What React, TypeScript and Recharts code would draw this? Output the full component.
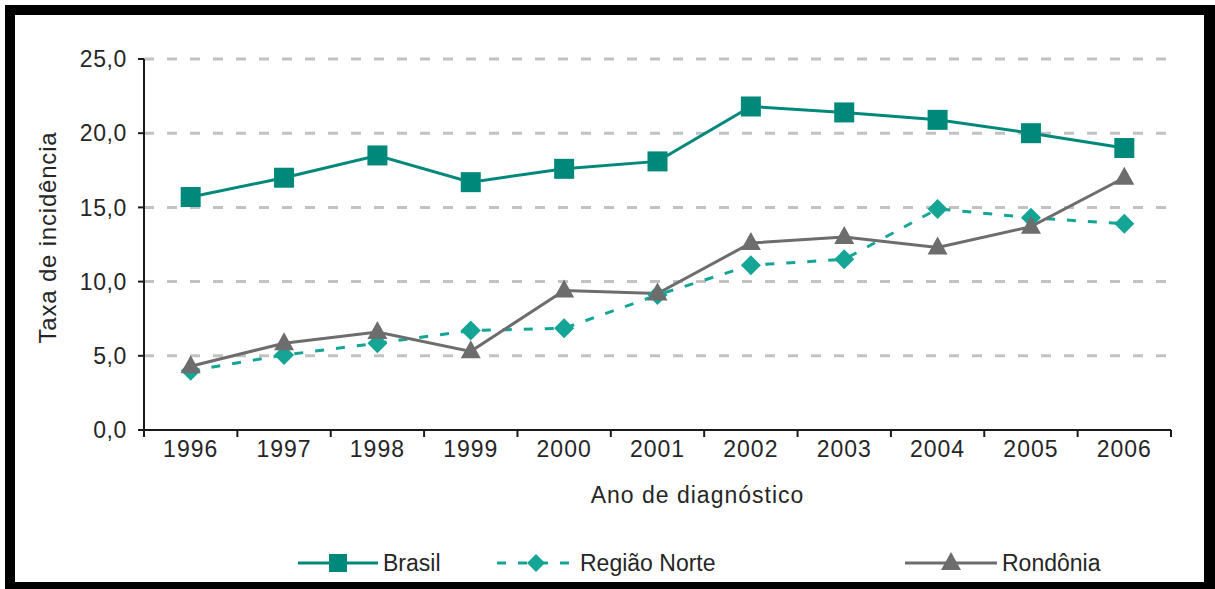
import React from "react";
import { LineChart, Line, XAxis, YAxis, CartesianGrid } from "recharts";

// taxa de incidência por ano de diagnóstico
const years = ["1996", "1997", "1998", "1999", "2000", "2001", "2002", "2003", "2004", "2005", "2006"];
const brasil = [15.7, 17.0, 18.5, 16.7, 17.6, 18.1, 21.8, 21.4, 20.9, 20.0, 19.0];
const regiaoNorte = [4.0, 5.05, 5.85, 6.7, 6.85, 9.1, 11.1, 11.5, 14.9, 14.3, 13.9];
const rondonia = [4.3, 5.85, 6.6, 5.3, 9.4, 9.2, 12.6, 13.0, 12.3, 13.7, 17.0];
const yTicks = [0, 5, 10, 15, 20, 25];
const seriesNames = ["Brasil", "Região Norte", "Rondônia"];

const W = 1215;
const H = 589;
const M = { top: 59, right: 44, bottom: 129, left: 84 };
const Y_AXIS_W = 60;
const PLOT_W = W - M.left - M.right - Y_AXIS_W;
const BAND = PLOT_W / years.length;

const FONT = "'Liberation Sans', Arial, sans-serif";
const TEXT = "#262626";
const AXIS = "#1a1a1a";
const BRASIL_C = "#00897b";
const NORTE_C = "#14a596";
const RONDONIA_C = "#6d6d6d";

const data = years.map((year, i) => ({
  year,
  brasil: brasil[i],
  norte: regiaoNorte[i],
  rondonia: rondonia[i],
}));

const fmt = (v: number) => v.toFixed(1).replace(".", ",");

function Square({ cx, cy, color, size = 20 }: any) {
  if (cx == null || cy == null) return null;
  return <rect x={cx - size / 2} y={cy - size / 2} width={size} height={size} fill={color} />;
}

function Diamond({ cx, cy, color, size = 10 }: any) {
  if (cx == null || cy == null) return null;
  return (
    <path
      d={`M${cx},${cy - size} L${cx + size},${cy} L${cx},${cy + size} L${cx - size},${cy} Z`}
      fill={color}
    />
  );
}

function Triangle({ cx, cy, color }: any) {
  if (cx == null || cy == null) return null;
  return <path d={`M${cx},${cy - 11} L${cx + 10},${cy + 7} L${cx - 10},${cy + 7} Z`} fill={color} />;
}

function YearTick(props: any) {
  const { x, y, payload, index } = props;
  const half = BAND / 2;
  const last = index === years.length - 1;
  return (
    <g>
      <line x1={x - half} x2={x - half} y1={y} y2={y + 7} stroke={AXIS} strokeWidth={2} />
      {last && <line x1={x + half} x2={x + half} y1={y} y2={y + 7} stroke={AXIS} strokeWidth={2} />}
      <text
        x={x}
        y={y + 27}
        textAnchor="middle"
        fill={TEXT}
        fontSize={23}
        letterSpacing={1}
        fontFamily={FONT}
      >
        {payload.value}
      </text>
    </g>
  );
}

const legendItems = [
  { name: seriesNames[0], color: BRASIL_C, dash: undefined, shape: "square", x: 298, len: 80 },
  { name: seriesNames[1], color: NORTE_C, dash: "9 12", shape: "diamond", x: 497, len: 78 },
  { name: seriesNames[2], color: RONDONIA_C, dash: undefined, shape: "triangle", x: 905, len: 92 },
];

function ChartLegend() {
  const cy = 21;
  return (
    <svg
      width={W}
      height={44}
      style={{ position: "absolute", left: 0, top: 542, fontFamily: FONT }}
    >
      {legendItems.map((it) => {
        const mid = it.x + it.len / 2;
        return (
          <g key={it.name}>
            <line
              x1={it.x}
              x2={it.x + it.len}
              y1={cy}
              y2={cy}
              stroke={it.color}
              strokeWidth={3}
              strokeDasharray={it.dash}
            />
            {it.shape === "square" && <Square cx={mid} cy={cy} color={it.color} size={18} />}
            {it.shape === "diamond" && <Diamond cx={mid} cy={cy} color={it.color} size={9} />}
            {it.shape === "triangle" && <Triangle cx={mid} cy={cy} color={it.color} />}
            <text x={it.x + it.len + 5} y={cy + 8} fontSize={23} fill={TEXT}>
              {it.name}
            </text>
          </g>
        );
      })}
    </svg>
  );
}

export default function App() {
  return (
    <div style={{ position: "absolute", left: 0, top: 0, width: W, height: H, background: "#fff" }}>
      <div
        style={{
          position: "absolute",
          left: 5,
          top: 5,
          width: W - 5,
          height: H - 5,
          boxSizing: "border-box",
          borderStyle: "solid",
          borderColor: "#000",
          borderWidth: "10px 11px 7px 10px",
        }}
      />
      <div style={{ position: "absolute", left: 0, top: 0 }}>
        <LineChart width={W} height={H} data={data} margin={M}>
          <CartesianGrid
            vertical={false}
            horizontalValues={[5, 10, 15, 20, 25]}
            stroke="#c2c2c2"
            strokeWidth={3}
            strokeDasharray="10 13"
          />
          <XAxis
            dataKey="year"
            height={30}
            interval={0}
            padding={{ left: BAND / 2, right: BAND / 2 }}
            axisLine={{ stroke: AXIS, strokeWidth: 2 }}
            tickLine={false}
            tickSize={0}
            tickMargin={0}
            tick={<YearTick />}
            label={{
              content: (p: any) => {
                const vb = p.viewBox || { x: 144, y: 430, width: PLOT_W };
                return (
                  <text
                    x={vb.x + vb.width / 2 + 40}
                    y={vb.y + 73}
                    textAnchor="middle"
                    fontSize={23}
                    letterSpacing={1}
                    fill={TEXT}
                    fontFamily={FONT}
                  >
                    Ano de diagnóstico
                  </text>
                );
              },
            }}
          />
          <YAxis
            width={Y_AXIS_W}
            domain={[0, 25]}
            ticks={yTicks}
            interval={0}
            tickFormatter={fmt}
            tickSize={6}
            tickMargin={11}
            axisLine={{ stroke: AXIS, strokeWidth: 2 }}
            tickLine={{ stroke: AXIS, strokeWidth: 2 }}
            tick={{ fill: TEXT, fontSize: 23, fontFamily: FONT, letterSpacing: 0.6 }}
            label={{
              content: (p: any) => {
                const vb = p.viewBox || { x: 84, y: 59, height: 371 };
                const cx = vb.x - 37;
                const cy = vb.y + vb.height / 2 - 7;
                return (
                  <text
                    x={cx}
                    y={cy}
                    transform={`rotate(-90, ${cx}, ${cy})`}
                    textAnchor="middle"
                    dominantBaseline="central"
                    fontSize={24}
                    letterSpacing={0.8}
                    fill={TEXT}
                    fontFamily={FONT}
                  >
                    Taxa de incidência
                  </text>
                );
              },
            }}
          />
          <Line
            dataKey="norte"
            name={seriesNames[1]}
            stroke={NORTE_C}
            strokeWidth={3}
            strokeDasharray="9 12"
            dot={(p: any) => <Diamond key={`n${p.index}`} cx={p.cx} cy={p.cy} color={NORTE_C} />}
            isAnimationActive={false}
          />
          <Line
            dataKey="rondonia"
            name={seriesNames[2]}
            stroke={RONDONIA_C}
            strokeWidth={3}
            dot={(p: any) => <Triangle key={`r${p.index}`} cx={p.cx} cy={p.cy} color={RONDONIA_C} />}
            isAnimationActive={false}
          />
          <Line
            dataKey="brasil"
            name={seriesNames[0]}
            stroke={BRASIL_C}
            strokeWidth={3}
            dot={(p: any) => <Square key={`b${p.index}`} cx={p.cx} cy={p.cy} color={BRASIL_C} />}
            isAnimationActive={false}
          />
        </LineChart>
      </div>
      <ChartLegend />
    </div>
  );
}
